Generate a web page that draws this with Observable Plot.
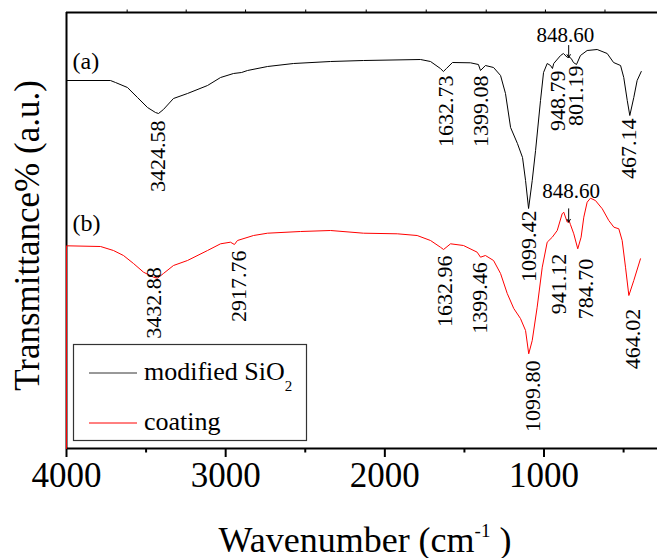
<!DOCTYPE html>
<html>
<head>
<meta charset="utf-8">
<script src="https://cdn.jsdelivr.net/npm/d3@7"></script>
<script src="https://cdn.jsdelivr.net/npm/@observablehq/plot@0.6"></script>
<style>
  html, body { margin: 0; padding: 0; background: white; }
  #chart { width: 657px; height: 558px; }
  #chart svg, #chart svg text, #chart svg tspan { font-family: 'Liberation Serif', serif !important; }
</style>
</head>
<body>
<div id="chart"></div>
<script>
// ---- data (wavenumber cm-1, transmittance in arbitrary units) ----
const blackWn = [4000, 3724, 3692, 3617, 3554, 3491, 3441, 3422, 3391, 3328, 3240, 3114, 3032, 2951, 2900, 2863, 2737, 2574, 2341, 2134, 1776, 1713, 1651, 1632, 1613, 1575, 1462, 1412, 1399, 1368, 1317, 1273, 1242, 1210, 1167, 1135, 1116, 1097, 1074, 1053, 1022, 1003, 980, 959, 947, 939, 896, 878, 853, 846, 829, 815, 796, 771, 729, 666, 603, 563, 519, 499, 477, 461, 436, 415, 389];
const blackT  = [368, 368, 366, 361, 351, 341, 336, 335, 339, 350, 355, 363, 371, 375, 376, 378, 382, 385, 387, 388, 389, 387, 380, 377, 380, 386, 385.7, 384, 378, 383, 381, 373, 355, 321, 305, 291, 268, 240, 268, 298, 348, 376, 385, 383, 380, 385, 393, 395, 391, 392, 390, 386, 384, 393, 398, 399, 395, 386, 383, 371, 348, 333, 351, 368, 377];

const redWn = [4000, 4000, 3786, 3705, 3642, 3579, 3516, 3453, 3428, 3391, 3328, 3240, 3114, 3032, 2970, 2945, 2926, 2825, 2737, 2530, 2341, 2134, 1922, 1797, 1713, 1651, 1631, 1587, 1506, 1420, 1399, 1368, 1317, 1273, 1231, 1190, 1148, 1116, 1096, 1074, 1043, 1011, 980, 948, 917, 886, 876, 854, 843, 834, 813, 788, 767, 750, 729, 708, 677, 634, 593, 561, 530, 509, 488, 467, 436, 394];
const redT  = [0, 202.7, 202, 198, 193, 185, 176.3, 171.3, 170.3, 175, 183, 188, 198, 204.7, 206.3, 204, 208, 213, 215.3, 217, 218, 215.3, 214.7, 213, 208, 201.3, 199, 204.7, 203, 196.3, 191.3, 193, 188, 175, 155, 140, 130, 118, 94.7, 108, 141.3, 181.3, 206.3, 211.3, 218, 234.7, 236.3, 226.3, 228, 224, 214.7, 199.7, 211.3, 231.3, 246.3, 250.3, 248, 239.7, 228, 221.3, 219.7, 208, 181.3, 153, 168, 189.7];

// peak annotations: text, label x (cm-1), label top (a.u.)
const peakText = ["3424.58", "1632.73", "1399.08", "1099.42", "948.79", "801.19", "467.14",
                  "3432.88", "2917.76", "1632.96", "1399.46", "1099.80", "941.12", "784.70", "464.02"];
const peakX    = [3425, 1619, 1399, 1097, 912, 802, 469,
                  3453, 2919, 1625, 1405, 1069, 903, 736, 441];
const peakTop  = [328, 373, 373, 238, 378, 383, 330,
                  181.3, 198, 193, 186.3, 88, 194.7, 189.7, 139.7];

// arrowed annotation 848.60
const arrowText = ["848.60", "848.60"];
const arrowTextX = [866, 830];
const arrowTextY = [413, 257.4];
const arrowX = [845, 845];
const arrowY1 = [403, 239.7];
const arrowY2 = [391, 226.3];

// curve tags
const tagText = ["(a)", "(b)"];
const tagX = [3962, 3962];
const tagY = [387, 225.5];

const majorTicks = [4000, 3000, 2000, 1000];
const minorTicks = [3500, 2500, 1500, 500];
const topTicks = [3619, 3248, 2875, 2497, 2117, 1740, 1363, 991, 617];

const seriesNames = ["modified SiO", "coating"];
const seriesColors = ["#000000", "#ff0000"];

// ---- build tables ----
const black = blackWn.map((x, i) => ({x, y: blackT[i]}));
const red = redWn.map((x, i) => ({x, y: redT[i]}));
const peaks = peakText.map((t, i) => ({t, x: peakX[i], y: peakTop[i]}));
const arrows = arrowText.map((t, i) => ({t, tx: arrowTextX[i], ty: arrowTextY[i], x: arrowX[i], y1: arrowY1[i], y2: arrowY2[i]}));
const tags = tagText.map((t, i) => ({t, x: tagX[i], y: tagY[i]}));

const FONT = "'Liberation Serif', serif";

const plot = Plot.plot({
  width: 657,
  height: 558,
  marginLeft: 66,
  marginRight: 0,
  marginTop: 12,
  marginBottom: 110,
  x: {domain: [4000, 287], axis: null},
  y: {domain: [0, 436], axis: null},
  style: {fontFamily: FONT, background: "white", color: "black", overflow: "visible"},
  marks: [
    Plot.ruleX([4000], {stroke: "black", strokeWidth: 2}),
    Plot.ruleY([0], {stroke: "black", strokeWidth: 2}),
    Plot.ruleY([436], {stroke: "black", strokeWidth: 2}),
    Plot.ruleX(topTicks, {x: d => d, y1: 436, y2: 438.5, stroke: "black", strokeWidth: 1}),
    Plot.axisX({ticks: majorTicks, tickSize: 9, tickPadding: 5, tickFormat: d => String(d), fontSize: 35, strokeWidth: 2, anchor: "bottom", label: null}),
    Plot.axisX({ticks: minorTicks, tickSize: 4.5, tickFormat: () => "", strokeWidth: 2, anchor: "bottom", label: null}),
    Plot.line(black, {x: "x", y: "y", stroke: seriesColors[0], strokeWidth: 1}),
    Plot.line(red, {x: "x", y: "y", stroke: seriesColors[1], strokeWidth: 1}),
    Plot.text(peaks, {x: "x", y: "y", text: "t", rotate: -90, textAnchor: "end", lineAnchor: "middle", fontSize: 22, fill: "black"}),
    Plot.text(arrows, {x: "tx", y: "ty", text: "t", textAnchor: "middle", lineAnchor: "middle", fontSize: 21, fill: "black"}),
    Plot.arrow(arrows, {x1: "x", x2: "x", y1: "y1", y2: "y2", stroke: "black", strokeWidth: 1, headLength: 5}),
    Plot.text(tags, {x: "x", y: "y", text: "t", textAnchor: "start", lineAnchor: "middle", fontSize: 24, fill: "black"}),
    Plot.text(["Wavenumber (cm-1)"], {text: d => d, frameAnchor: "bottom", dx: 3, dy: 91.5, textAnchor: "middle", lineAnchor: "middle", fontSize: 36, fill: "black"}),
    Plot.text(["Transmittance% (a.u.)"], {text: d => d, frameAnchor: "left", dx: -39, dy: 5, rotate: -90, textAnchor: "middle", lineAnchor: "middle", fontSize: 35, fill: "black"})
  ]
});

document.getElementById("chart").appendChild(plot);

// superscript in x label
const svg = d3.select(plot.tagName === "svg" ? plot : plot.querySelector("svg"));
svg.selectAll("text").filter(function() { return this.textContent === "Wavenumber (cm-1)"; })
  .each(function() {
    const t = d3.select(this);
    t.text(null);
    t.append("tspan").text("Wavenumber (cm");
    t.append("tspan").attr("dy", -15).attr("font-size", 19).text("-1");
    t.append("tspan").attr("dy", 15).text(" )");
  });

// legend (inside plot area, lower left)
const lg = svg.append("g").attr("text-anchor", "start");
lg.append("rect").attr("x", 73.5).attr("y", 344.5).attr("width", 233).attr("height", 96)
  .attr("fill", "white").attr("stroke", "#333").attr("stroke-width", 1.2);
seriesNames.forEach((name, i) => {
  const yLine = 373 + i * 50;
  lg.append("line").attr("x1", 89).attr("x2", 137).attr("y1", yLine).attr("y2", yLine)
    .attr("stroke", i === 0 ? "#333" : seriesColors[i]).attr("stroke-width", 1);
  const tx = lg.append("text").attr("x", 144).attr("y", yLine + 7).attr("font-size", 26).attr("fill", "black").attr("text-anchor", "start");
  tx.append("tspan").text(name);
  if (i === 0) tx.append("tspan").attr("dy", 11).attr("font-size", 15).text("2");
});
</script>
</body>
</html>
